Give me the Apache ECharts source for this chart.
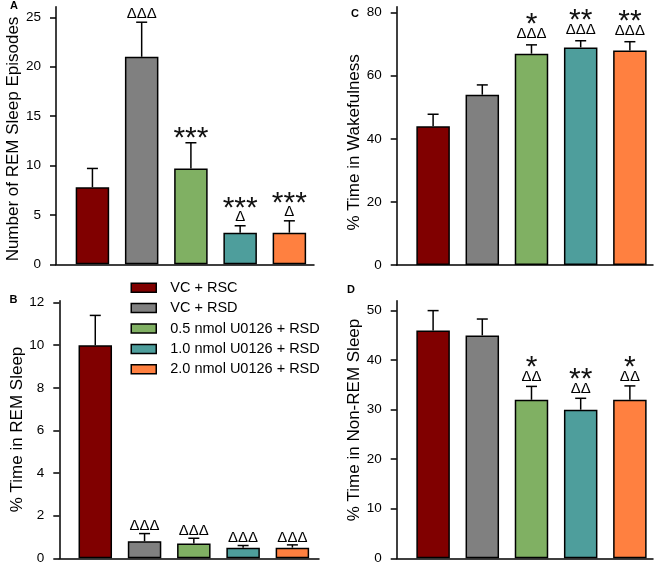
<!DOCTYPE html>
<html>
<head>
<meta charset="utf-8">
<script src="https://cdn.jsdelivr.net/npm/echarts@6/dist/echarts.min.js"></script>
<style>html,body{margin:0;padding:0;background:#fff}#c{width:661px;height:570px}</style>
</head>
<body>
<div id="c"></div>
<script>
// ---- data ----
const groups = ['VC + RSC', 'VC + RSD', '0.5 nmol U0126 + RSD', '1.0 nmol U0126 + RSD', '2.0 nmol U0126 + RSD'];
const groupColors = ['#800000', '#808080', '#80B063', '#4E9E9C', '#FF8040'];

const remEpisodes = [7.8, 21.0, 9.7, 3.2, 3.2];
const remEpisodesSem = [1.9, 3.5, 2.6, 0.7, 1.2];
const remEpisodesStars = ['', '', '***', '***', '***'];
const remEpisodesDeltas = ['', 'ΔΔΔ', '', 'Δ', 'Δ'];
const remEpisodesTicks = [0, 5, 10, 15, 20, 25];

const remTime = [10.0, 0.8, 0.7, 0.5, 0.5];
const remTimeSem = [1.4, 0.36, 0.24, 0.1, 0.13];
const remTimeStars = ['', '', '', '', ''];
const remTimeDeltas = ['', 'ΔΔΔ', 'ΔΔΔ', 'ΔΔΔ', 'ΔΔΔ'];
const remTimeTicks = [0, 2, 4, 6, 8, 10, 12];

const wakeTime = [44, 54, 67, 69, 68];
const wakeTimeSem = [3.8, 3.1, 2.8, 2.1, 2.8];
const wakeTimeStars = ['', '', '*', '**', '**'];
const wakeTimeDeltas = ['', '', 'ΔΔΔ', 'ΔΔΔ', 'ΔΔΔ'];
const wakeTimeTicks = [0, 20, 40, 60, 80];

const nremTime = [46, 45, 32, 30, 32];
const nremTimeSem = [4.0, 3.3, 2.7, 2.3, 2.8];
const nremTimeStars = ['', '', '*', '**', '*'];
const nremTimeDeltas = ['', '', 'ΔΔ', 'ΔΔ', 'ΔΔ'];
const nremTimeTicks = [0, 10, 20, 30, 40, 50];

// ---- layout ----
const FONT = '"Liberation Sans", Arial, sans-serif';
const panels = [
  {letter: 'A', title: 'Number of REM Sleep Episodes', vals: remEpisodes, sem: remEpisodesSem, stars: remEpisodesStars, deltas: remEpisodesDeltas, ticks: remEpisodesTicks,
   grid: {left: 56, top: 6.7, width: 258, height: 257.6}, ymax: 26.07, xmin: -0.74, xmax: 4.5, namePad: [0, 7, 0, 0], dOff: 8.5, lx: 14, ly: 6},
  {letter: 'B', title: '% Time in REM Sleep', vals: remTime, sem: remTimeSem, stars: remTimeStars, deltas: remTimeDeltas, ticks: remTimeTicks,
   grid: {left: 59.3, top: 300.7, width: 259.7, height: 257.6}, ymax: 12.09, xmin: -0.73, xmax: 4.54, namePad: [0, 0, 0, 0], dOff: 7.5, lx: 13.5, ly: 300},
  {letter: 'C', title: '% Time in Wakefulness', vals: wakeTime, sem: wakeTimeSem, stars: wakeTimeStars, deltas: wakeTimeDeltas, ticks: wakeTimeTicks,
   grid: {left: 396.7, top: 6.7, width: 256.3, height: 258.3}, ymax: 81.9, xmin: -0.74, xmax: 4.47, namePad: [0, 13, 0, 0], dOff: 11, lx: 355, ly: 13.5},
  {letter: 'D', title: '% Time in Non-REM Sleep', vals: nremTime, sem: nremTimeSem, stars: nremTimeStars, deltas: nremTimeDeltas, ticks: nremTimeTicks,
   grid: {left: 396.7, top: 300.7, width: 256.3, height: 257.6}, ymax: 52.0, xmin: -0.74, xmax: 4.47, namePad: [0, 0, 0, 19], dOff: 9.5, lx: 351, ly: 289.5}
];

const grids = [], xAxes = [], yAxes = [], series = [], graphics = [];
panels.forEach((p, k) => {
  grids.push(Object.assign({containLabel: false}, p.grid));
  xAxes.push({type: 'value', gridIndex: k, min: p.xmin, max: p.xmax,
    axisLine: {show: true, onZero: false, lineStyle: {color: '#000', width: 1.5}},
    axisTick: {show: false}, axisLabel: {show: false}, splitLine: {show: false}});
  yAxes.push({type: 'value', gridIndex: k, min: 0, max: p.ymax,
    name: p.title, nameLocation: 'middle', nameGap: 31,
    nameTextStyle: {fontFamily: FONT, fontSize: 17, color: '#000', padding: p.namePad},
    axisLine: {show: true, onZero: false, lineStyle: {color: '#000', width: 1.5}},
    axisTick: {show: true, inside: false, length: 6, customValues: p.ticks, lineStyle: {color: '#000', width: 1.5}},
    axisLabel: {show: true, customValues: p.ticks, margin: 15, fontFamily: FONT, fontSize: 13.5, color: '#000'},
    splitLine: {show: false}});
  groups.forEach((g, i) => {
    series.push({type: 'bar', name: g, xAxisIndex: k, yAxisIndex: k, barWidth: 33.5, barGap: '-100%',
      itemStyle: {color: groupColors[i], borderColor: '#000', borderWidth: 1.5},
      emphasis: {disabled: true}, animation: false,
      data: [[i, p.vals[i]]]});
  });
  series.push({type: 'custom', xAxisIndex: k, yAxisIndex: k, z: 5, animation: false, silent: true,
    data: p.vals.map((v, i) => [i, v, v + p.sem[i]]),
    renderItem: function (params, api) {
      const i = params.dataIndex;
      const base = api.coord([api.value(0), api.value(1)]);
      const top = api.coord([api.value(0), api.value(2)]);
      const ch = [
        {type: 'line', shape: {x1: base[0], y1: base[1], x2: top[0], y2: top[1]}, style: {stroke: '#000', lineWidth: 1.5}},
        {type: 'line', shape: {x1: top[0] - 5.5, y1: top[1], x2: top[0] + 5.5, y2: top[1]}, style: {stroke: '#000', lineWidth: 1.5}}
      ];
      const d = p.deltas[i], s = p.stars[i];
      let starCenter;
      if (d) {
        const dc = top[1] - p.dOff;
        ch.push({type: 'text', x: top[0], y: dc, style: {text: d, font: '15px ' + FONT, fill: '#000', align: 'center', verticalAlign: 'middle'}});
        starCenter = dc - 15.5;
      } else {
        starCenter = top[1] - 11;
      }
      if (s) {
        ch.push({type: 'text', x: top[0], y: starCenter + 6.6, style: {text: s, font: '30px ' + FONT, fill: '#111', align: 'center', verticalAlign: 'middle'}});
      }
      return {type: 'group', children: ch};
    }
  });
  graphics.push({type: 'text', x: p.lx, y: p.ly, style: {text: p.letter, font: 'bold 11px ' + FONT, fill: '#000', align: 'center', verticalAlign: 'middle'}});
});

const chart = echarts.init(document.getElementById('c'), null, {renderer: 'canvas'});
chart.setOption({
  animation: false,
  backgroundColor: '#fff',
  grid: grids, xAxis: xAxes, yAxis: yAxes, series: series,
  graphic: graphics,
  legend: {data: groups, orient: 'vertical', left: 130.5, top: 279.7, padding: 0, itemWidth: 25, itemHeight: 9, itemGap: 4.4,
    icon: 'rect', selectedMode: false,
    itemStyle: {borderColor: '#000', borderWidth: 1.5},
    textStyle: {fontFamily: FONT, fontSize: 14.5, color: '#000', lineHeight: 16, padding: [0, 0, 0, 9]}}
});
</script>
</body>
</html>
